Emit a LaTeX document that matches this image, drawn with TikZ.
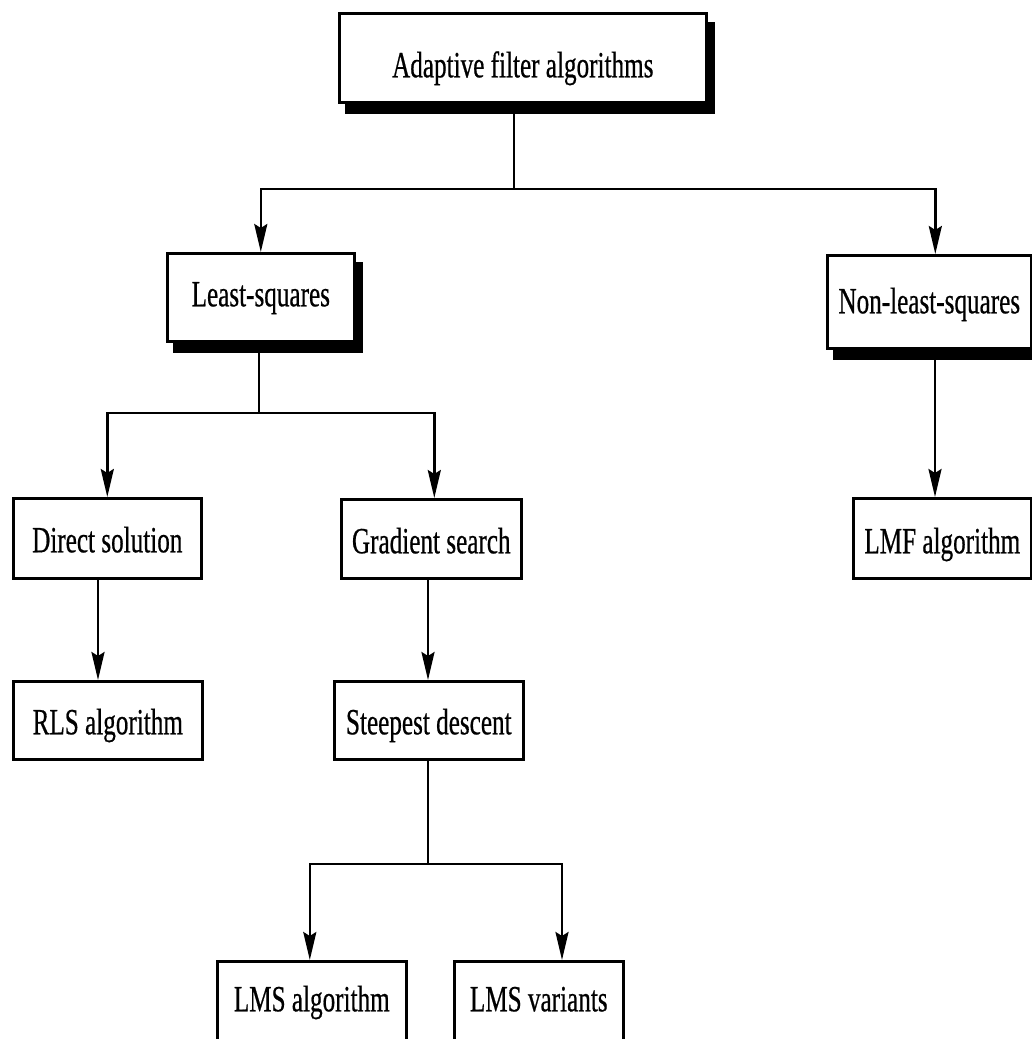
\documentclass[tikz,border=0pt]{standalone}
\usepackage{fontspec}
\newfontfamily\boxfont[FakeStretch=0.68,FakeBold=0.5]{Liberation Serif}
\usetikzlibrary{arrows.meta,backgrounds}
\begin{document}
\begin{tikzpicture}[x=1pt,y=-1pt,
  box/.style={draw, line width=2.6pt, fill=white, inner xsep=0pt, inner ysep=0pt,
    anchor=north west, font=\boxfont\fontsize{37}{40}\selectfont},
  link/.style={line width=2.6pt},
  arr/.style={link, -{Stealth[length=28pt,width=13pt,inset=4pt]}},
  shadowbar/.style={fill=black}]
\useasboundingbox (0,0) rectangle (1032,1039);
\clip (0,0) rectangle (1032,1039);

% boxes
\node[box, minimum width=367pt, text height=64pt, text depth=25pt] (top) at (338,12) {Adaptive filter algorithms};
\node[box, minimum width=187pt, text height=53pt, text depth=35pt] (ls) at (166,252) {Least-squares};
\node[box, minimum width=204pt, text height=58pt, text depth=35pt] (nls) at (826,254) {Non-least-squares};
\node[box, minimum width=188pt, text height=54pt, text depth=26pt] (ds) at (12,497) {Direct solution};
\node[box, minimum width=180pt, text height=54pt, text depth=25pt] (gs) at (340,498) {Gradient search};
\node[box, minimum width=178pt, text height=55pt, text depth=25pt] (lmf) at (852,497) {LMF algorithm};
\node[box, minimum width=189pt, text height=53pt, text depth=25pt] (rls) at (12,680) {RLS algorithm};
\node[box, minimum width=189pt, text height=53pt, text depth=25pt] (sd) at (333,680) {Steepest descent};
\node[box, minimum width=189pt, text height=50pt, text depth=50pt] (lmsa) at (216,960) {LMS algorithm};
\node[box, minimum width=169pt, text height=50pt, text depth=50pt] (lmsv) at (453,960) {LMS variants};

% page background and drop shadows under the upper three boxes
\begin{scope}[on background layer]
  \fill[white] (0,0) rectangle (1032,1039);
  \foreach \b in {top,ls,nls}
    \fill[shadowbar] ([shift={(7pt,-10pt)}]\b.north west) rectangle ([shift={(7pt,-10pt)}]\b.south east);
\end{scope}

% branch points and drop columns
\coordinate (j1) at (514,189);
\coordinate (j2) at (259,413);
\coordinate (j3) at (428,864);
\coordinate (k1) at (935,0);
\coordinate (k2) at (98,0);
\coordinate (k3) at (428,0);
\coordinate (k4) at (562,0);

% connectors
\draw[link] (top.south -| j1) -- (j1);
\draw[arr] (j1) -| (ls.north);
\draw[arr] (j1) -| ([xshift=6pt]nls.north);

\draw[link] (ls.south -| j2) -- (j2);
\draw[arr] (j2) -| (ds.north);
\draw[arr] (j2) -| ([xshift=3pt]gs.north);

\draw[arr] (nls.south -| k1) -- (lmf.north -| k1);
\draw[arr] (ds.south -| k2) -- (rls.north -| k2);
\draw[arr] (gs.south -| k3) -- (sd.north -| k3);

\draw[link] (sd.south -| j3) -- (j3);
\draw[arr] (j3) -| ([xshift=-2pt]lmsa.north);
\draw[arr] (j3) -| (lmsv.north -| k4);
\end{tikzpicture}
\end{document}
